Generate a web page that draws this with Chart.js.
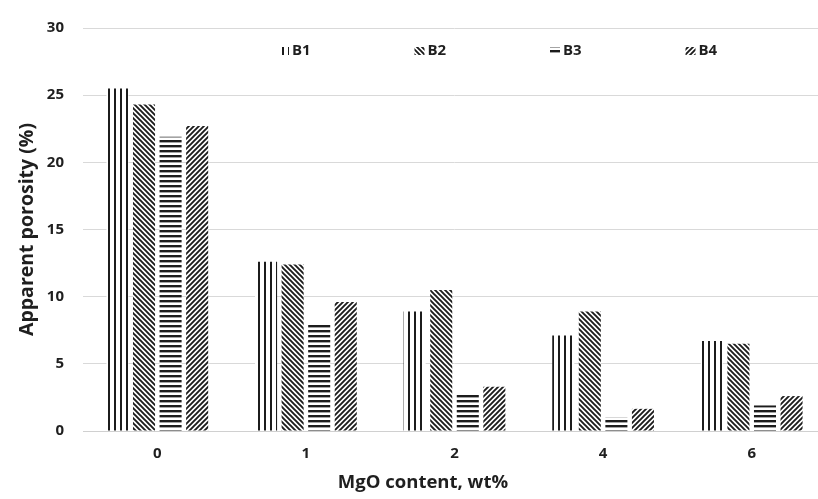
<!DOCTYPE html>
<html>
<head>
<meta charset="utf-8">
<script src="https://cdn.jsdelivr.net/npm/chart.js@4.4.1/dist/chart.umd.min.js"></script>
<style>
  html, body { margin: 0; padding: 0; background: #fff; overflow: hidden; }
  #wrap { width: 826px; height: 499px; }
</style>
</head>
<body>
<div id="wrap"><canvas id="chart" width="826" height="499"></canvas></div>
<script>
const categories = ['0', '1', '2', '4', '6'];
const seriesNames = ['B1', 'B2', 'B3', 'B4'];
const b1 = [25.5, 12.6, 8.9, 7.1, 6.7];
const b2 = [24.3, 12.4, 10.5, 8.9, 6.5];
const b3 = [21.9, 8.0, 2.75, 1.0, 1.9];
const b4 = [22.7, 9.6, 3.3, 1.65, 2.6];
const yTicks = [0, 5, 10, 15, 20, 25, 30];

const INK = '#1c1c1c';
const TEXT = '#1f1f1f';
const FONT = '"Open Sans", sans-serif';

function makeTile(size, draw) {
    const c = document.createElement('canvas');
    c.width = size;
    c.height = size;
    const g = c.getContext('2d');
    g.fillStyle = '#fff';
    g.fillRect(0, 0, size, size);
    g.fillStyle = INK;
    g.strokeStyle = INK;
    draw(g, size);
    return document.getElementById('chart').getContext('2d').createPattern(c, 'repeat');
}

// vertical lines
const patB1 = makeTile(6, (g, s) => { g.fillRect(0, 0, 2, s); });
// "\" diagonals
const patB2 = makeTile(5, (g, s) => {
    g.lineWidth = 1.9;
    g.beginPath();
    g.moveTo(-1, -1); g.lineTo(s + 1, s + 1);
    g.moveTo(-1, s - 1); g.lineTo(1, s + 1);
    g.moveTo(s - 1, -1); g.lineTo(s + 1, 1);
    g.stroke();
});
// horizontal lines
const patB3 = makeTile(5, (g, s) => { g.fillRect(0, 0, s, 2.4); });
// "/" diagonals
const patB4 = makeTile(5, (g, s) => {
    g.lineWidth = 1.9;
    g.beginPath();
    g.moveTo(-1, s + 1); g.lineTo(s + 1, -1);
    g.moveTo(-1, 1); g.lineTo(1, -1);
    g.moveTo(s - 1, s + 1); g.lineTo(s + 1, s - 1);
    g.stroke();
});

const patterns = [patB1, patB2, patB3, patB4];
const values = [b1, b2, b3, b4];

// legend sits inside the plot area, and the x title is off-centre in the original
const extras = {
    id: 'extras',
    afterDatasetsDraw(chart) {
        const ctx = chart.ctx;
        ctx.save();
        ctx.font = 'bold 15px ' + FONT;
        ctx.textBaseline = 'middle';
        chart.data.datasets.forEach((ds, i) => {
            const x = 279 + i * 135.5;
            ctx.fillStyle = ds.backgroundColor;
            ctx.fillRect(x, 47, 10, 8);
            ctx.fillStyle = TEXT;
            ctx.fillText(ds.label, x + 13, 51);
        });
        ctx.font = 'bold 18.5px ' + FONT;
        ctx.textAlign = 'center';
        ctx.fillText('MgO content, wt%', 423, 483);
        ctx.restore();
    }
};

new Chart(document.getElementById('chart'), {
    type: 'bar',
    data: {
        labels: categories,
        datasets: seriesNames.map((name, i) => ({
            label: name,
            data: values[i],
            backgroundColor: patterns[i],
            borderWidth: 0,
            categoryPercentage: 0.715,
            barPercentage: 0.83
        }))
    },
    options: {
        responsive: false,
        animation: false,
        layout: { padding: { top: 19, left: 0, right: 0, bottom: 0 } },
        plugins: {
            legend: { display: false },
            tooltip: { enabled: false }
        },
        scales: {
            x: {
                grid: { display: false, drawTicks: false },
                border: { display: true, color: '#d0d0d0', width: 1 },
                ticks: {
                    padding: 14,
                    color: TEXT,
                    font: { family: FONT, size: 15, weight: 'bold' }
                },
                afterFit(scale) { scale.height = 68; }
            },
            y: {
                min: 0,
                max: 30,
                afterBuildTicks(scale) { scale.ticks = yTicks.map(v => ({ value: v })); },
                grid: { color: '#d9d9d9', lineWidth: 1, drawTicks: false },
                border: { display: false },
                ticks: {
                    padding: 19,
                    color: TEXT,
                    font: { family: FONT, size: 15, weight: 'bold' }
                },
                title: {
                    display: true,
                    text: 'Apparent porosity (%)',
                    color: TEXT,
                    font: { family: FONT, size: 19.5, weight: 'bold' },
                    padding: { top: 16, bottom: 0 }
                },
                afterFit(scale) { scale.width = 83; }
            }
        }
    },
    plugins: [extras]
});
</script>
</body>
</html>
